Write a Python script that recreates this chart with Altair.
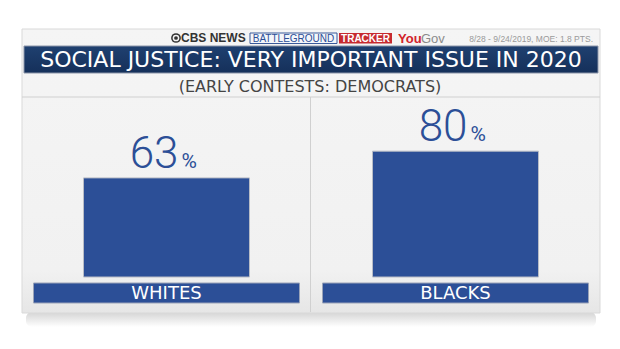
import altair as alt
import pandas as pd

# ---- data ----
groups = ["WHITES", "BLACKS"]
values = [63, 80]
title_text = "SOCIAL JUSTICE: VERY IMPORTANT ISSUE IN 2020"
subtitle_text = "(EARLY CONTESTS: DEMOCRATS)"
date_text = "8/28 - 9/24/2019, MOE: 1.8 PTS."

df = pd.DataFrame({"group": groups, "value": values})

W, H = 620, 349
BLUE = "#2c4f97"

one = alt.Data(values=[{}])

xs = alt.Scale(domain=groups, range=[22, 600], paddingInner=0, paddingOuter=0)
ys = alt.Scale(domain=[0, 100], range=[277, 119.7])


def grad(*stops):
    return alt.Gradient(gradient="linear",
                        stops=[alt.GradientStop(color=c, offset=o) for c, o in stops],
                        x1=0, x2=0, y1=0, y2=1)


def box(x1, x2, y1, y2, **kw):
    return alt.Chart(one).mark_rect(**kw).encode(
        x=alt.value(x1), x2=alt.value(x2), y=alt.value(y1), y2=alt.value(y2)
    )


def label(x, y, txt, **kw):
    return alt.Chart(one).mark_text(**kw).encode(
        x=alt.value(x), y=alt.value(y), text=alt.value(txt)
    )


shadow = box(26, 596, 312, 327, cornerRadius=6,
             color=grad(("#d4d4d4", 0), ("#ffffff", 1)))
panel = box(22, 600, 29, 313, stroke="#d9d9d9", strokeWidth=1,
            color=grad(("#f5f5f5", 0), ("#f1f1f1", 0.85), ("#e6e6e6", 1)))
title_bar = box(24, 598, 46, 73, stroke="#8a94a8", strokeWidth=1,
                color=grad(("#1f4070", 0), ("#15305a", 1)))
title = label(311, 60, title_text, color="white", font="DejaVu Sans", fontSize=22,
              baseline="middle", align="center")
subtitle = label(310, 87, subtitle_text, color="#444444", font="DejaVu Sans", fontSize=16,
                 baseline="middle", align="center")
hline = alt.Chart(one).mark_rule(color="#d0d0d0", strokeWidth=1).encode(
    x=alt.value(22), x2=alt.value(600), y=alt.value(97))
vline = alt.Chart(one).mark_rule(color="#d0d0d0", strokeWidth=1).encode(
    x=alt.value(310.5), y=alt.value(97), y2=alt.value(312))

# header
eye_outer = alt.Chart(one).mark_point(shape="circle", filled=True, color="#333333", size=95, opacity=1).encode(
    x=alt.value(176), y=alt.value(38))
eye_mid = alt.Chart(one).mark_point(shape="circle", filled=True, color="#f4f4f4", size=45, opacity=1).encode(
    x=alt.value(176), y=alt.value(38))
eye_in = alt.Chart(one).mark_point(shape="circle", filled=True, color="#333333", size=14, opacity=1).encode(
    x=alt.value(176), y=alt.value(38))
cbs = label(181, 38, "CBS NEWS", color="#333333", font="Liberation Sans", fontSize=12,
            fontWeight="bold", baseline="middle", align="left")
bg_box = box(250, 337, 33, 43.5, color="#f4f6fa", stroke="#3a5a9a", strokeWidth=1)
bg_txt = label(293.5, 38.5, "BATTLEGROUND", color=BLUE, font="Liberation Sans", fontSize=10,
               baseline="middle", align="center")
tr_box = box(339, 392, 33, 43.5, color="#c62a2f")
tr_txt = label(365.5, 38.5, "TRACKER", color="white", font="Liberation Sans", fontSize=10,
               fontWeight="bold", baseline="middle", align="center")
you = label(398, 38.5, "You", color="#d2232a", font="Liberation Sans", fontSize=13,
            fontWeight="bold", baseline="middle", align="left")
gov = label(421, 38.5, "Gov", color="#8a8a8a", font="Liberation Sans", fontSize=13,
            baseline="middle", align="left")
date = label(593, 38.5, date_text, color="#9a9a9a", font="Liberation Sans", fontSize=8.5,
             baseline="middle", align="right")

# data
base = alt.Chart(df)
X = alt.X("group:N", scale=xs, axis=None, sort=groups)
Y = alt.Y("value:Q", scale=ys, axis=None)
bars = base.mark_bar(color=BLUE, stroke="#b8bcc6", strokeWidth=1,
                     width=alt.RelativeBandSize(166 / 289)).encode(x=X, y=Y)
num = base.mark_text(color=BLUE, font="Roboto", fontWeight=300, fontSize=44,
                     align="right", baseline="alphabetic", dx=12, dy=-10).encode(
    x=X, y=Y, text=alt.Text("value:Q"))
pct = base.mark_text(color=BLUE, font="Roboto", fontWeight=400, fontSize=21,
                     align="left", baseline="alphabetic", dx=15, dy=-10).encode(
    x=X, y=Y, text=alt.value("%"))
lab_bar = base.mark_bar(color=BLUE, stroke="#9aa3b8", strokeWidth=1,
                        width=alt.RelativeBandSize(266 / 289)).encode(
    x=X, y=alt.value(283), y2=alt.value(303))
lab_txt = base.mark_text(color="white", font="DejaVu Sans", fontSize=18,
                         baseline="middle", align="center").encode(
    x=X, y=alt.value(293.5), text=alt.Text("group:N"))

chart = alt.layer(
    shadow, panel, hline, vline, title_bar, title, subtitle,
    eye_outer, eye_mid, eye_in, cbs, bg_box, bg_txt, tr_box, tr_txt, you, gov, date,
    bars, num, pct, lab_bar, lab_txt,
).properties(
    width=W, height=H, padding=0, autosize=alt.AutoSizeParams(type="none"),
    background="white",
).configure_view(stroke=None)

chart.save("out.html", embed_options={"renderer": "svg", "actions": False})
